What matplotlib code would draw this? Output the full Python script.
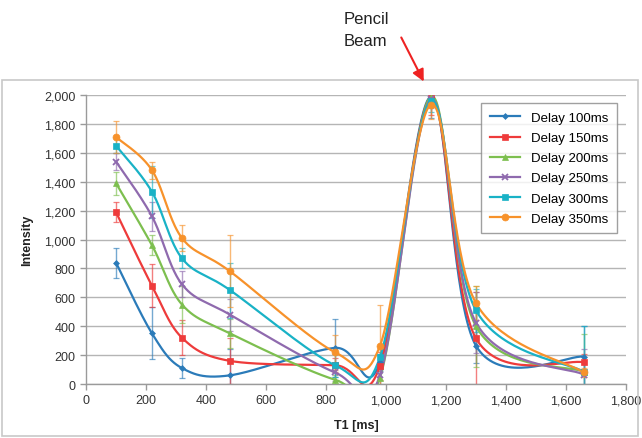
import numpy as np
import matplotlib
matplotlib.use("Agg")
import matplotlib.pyplot as plt
from matplotlib.patches import Rectangle, FancyArrowPatch
from matplotlib.lines import Line2D

plt.rcParams['font.family'] = ['Liberation Sans', 'DejaVu Sans']

t1 = [100, 220, 320, 480, 830, 980, 1150, 1300, 1660]
series_names = ["Delay 100ms", "Delay 150ms", "Delay 200ms", "Delay 250ms", "Delay 300ms", "Delay 350ms"]
d100 = [840, 350, 110, 60, 250, 150, 1990, 265, 190]
d150 = [1190, 680, 320, 160, 130, 125, 1980, 316, 150]
d200 = [1390, 960, 550, 350, 30, 45, 1990, 400, 85]
d250 = [1540, 1160, 690, 480, 80, 60, 1970, 425, 65]
d300 = [1650, 1330, 870, 650, 130, 185, 1960, 510, 85]
d350 = [1710, 1480, 1010, 780, 220, 265, 1935, 560, 80]
e100 = [105, 180, 70, 180, 200, 60, 150, 120, 210]
e150 = [70, 150, 120, 160, 50, 100, 120, 320, 60]
e200 = [80, 70, 130, 100, 30, 60, 50, 280, 260]
e250 = [60, 100, 90, 110, 60, 70, 60, 210, 180]
e300 = [50, 180, 70, 190, 80, 80, 80, 150, 320]
e350 = [110, 60, 90, 250, 120, 280, 100, 120, 30]

values = [d100, d150, d200, d250, d300, d350]
errors = [e100, e150, e200, e250, e300, e350]
colors = ["#2b7bb9", "#ee3b3b", "#7dbf4f", "#8f6aae", "#19b2c6", "#f7922b"]
markers = ["D", "s", "^", "x", "s", "o"]
msizes = [3, 4.8, 4.3, 4.3, 3.8, 5]


def smooth(xs, ys, n=40):
    P = np.column_stack([xs, ys]).astype(float)
    out = [P[0]]
    for i in range(len(P) - 1):
        p0 = P[i - 1] if i > 0 else P[i]
        p1 = P[i]
        p2 = P[i + 1]
        p3 = P[i + 2] if i + 2 < len(P) else P[i + 1]
        c1 = p1 + (p2 - p0) / 6.0
        c2 = p2 - (p3 - p1) / 6.0
        t = np.linspace(0, 1, n)[1:, None]
        seg = ((1 - t) ** 3) * p1 + 3 * ((1 - t) ** 2) * t * c1 + 3 * (1 - t) * t ** 2 * c2 + t ** 3 * p2
        out.extend(seg)
    out = np.array(out)
    return out[:, 0], out[:, 1]


fig = plt.figure(figsize=(6.42, 4.39), dpi=100)
ax = fig.add_axes([0.134, 0.123, 0.841, 0.658])

handles = []
for vals, errs, c, m, ms, name in zip(values, errors, colors, markers, msizes, series_names):
    sx, sy = smooth(t1, vals)
    ax.plot(sx, sy, color=c, lw=1.6, zorder=3, clip_on=True)
    ax.errorbar(t1, vals, yerr=errs, fmt='none', ecolor=c, elinewidth=1.0, capsize=2.5,
                capthick=0.9, alpha=0.65, zorder=2)
    mew = 1.3 if m == "x" else 0.5
    ax.plot(t1, vals, linestyle='none', marker=m, color=c, markersize=ms, markeredgewidth=mew, zorder=4)
    handles.append(Line2D([0], [0], color=c, lw=1.6, marker=m, markersize=ms, markeredgewidth=mew))

ax.set_xlim(0, 1800)
ax.set_ylim(0, 2000)
ax.set_xticks(np.arange(0, 1801, 200))
ax.set_yticks(np.arange(0, 2001, 200))
ax.xaxis.set_major_formatter(matplotlib.ticker.FuncFormatter(lambda v, p: f"{int(v):,}"))
ax.yaxis.set_major_formatter(matplotlib.ticker.FuncFormatter(lambda v, p: f"{int(v):,}"))
ax.grid(axis='y', color='#b5b5b5', lw=1.0)
ax.set_axisbelow(True)
for s in ['top', 'right']:
    ax.spines[s].set_visible(False)
for s in ['left', 'bottom']:
    ax.spines[s].set_color('#9a9a9a')
    ax.spines[s].set_linewidth(1.0)
ax.tick_params(axis='both', colors='#9a9a9a', labelcolor='#333333', labelsize=9, length=4, width=1.0)
ax.set_xlabel("T1 [ms]", fontsize=9, fontweight='bold', labelpad=9, color='#222222')
ax.set_ylabel("Intensity", fontsize=9, fontweight='bold', labelpad=8, color='#222222')

leg = ax.legend(handles, series_names, loc='upper right', bbox_to_anchor=(0.995, 0.995),
                fontsize=9.5, frameon=True, fancybox=False, edgecolor='#888888',
                handlelength=2.3, labelspacing=0.6, borderpad=0.65)
leg.get_frame().set_linewidth(1.0)

# outer chart border
fig.patches.append(Rectangle((2 / 642, 2 / 439), 636 / 642, 356 / 439, transform=fig.transFigure,
                             fill=False, edgecolor='#c8c8c8', lw=1.2))

fig.text(344 / 642, 1 - 19 / 439, "Pencil", ha='left', va='center', fontsize=12, color='#222222')
fig.text(344 / 642, 1 - 41 / 439, "Beam", ha='left', va='center', fontsize=12, color='#222222')
arrow = FancyArrowPatch((400 / 642, 1 - 36 / 439), (425 / 642, 1 - 85 / 439), transform=fig.transFigure,
                        arrowstyle='-|>,head_length=7,head_width=3.5', color='#ee2222', lw=1.5)
fig.patches.append(arrow)

fig.savefig("out.png", dpi=100)
